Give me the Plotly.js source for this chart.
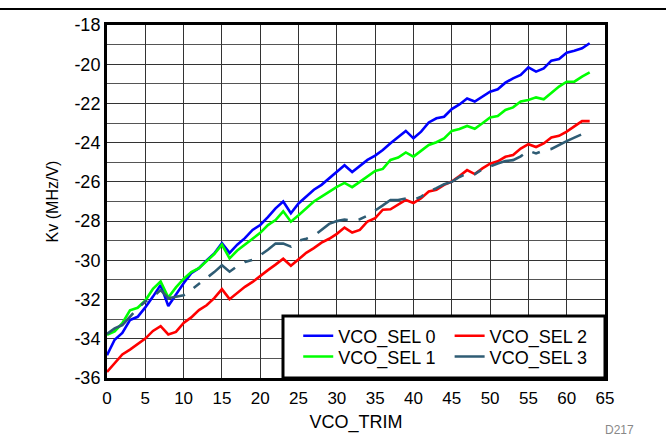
<!DOCTYPE html>
<html>
<head>
<meta charset="utf-8">
<script src="https://cdn.plot.ly/plotly-3.0.1.min.js"></script>
<style>
html,body{margin:0;padding:0;background:#fff;}
#chart{width:666px;height:438px;}
</style>
</head>
<body>
<div id="chart"></div>
<script>
// VCO_TRIM codes 0..63
const vcoTrim = Array.from({length: 64}, (_, i) => i);

const seriesNames = ["VCO_SEL 0", "VCO_SEL 1", "VCO_SEL 2", "VCO_SEL 3"];

const sel0 = [-34.84,-34.05,-33.7,-33.05,-32.88,-32.4,-31.85,-31.25,-32.33,-31.75,
  -31.17,-30.66,-30.4,-30.0,-29.65,-29.12,-29.62,-29.2,-28.87,-28.45,
  -28.2,-27.8,-27.35,-27.0,-27.6,-27.1,-26.75,-26.4,-26.15,-25.8,
  -25.5,-25.15,-25.5,-25.2,-24.88,-24.66,-24.37,-24.03,-23.7,-23.4,
  -23.78,-23.44,-22.97,-22.76,-22.68,-22.29,-22.05,-21.75,-21.9,-21.65,
  -21.4,-21.28,-20.94,-20.72,-20.55,-20.16,-20.38,-20.21,-19.82,-19.73,
  -19.41,-19.31,-19.19,-18.93];

const sel1 = [-33.8,-33.62,-33.2,-32.55,-32.42,-32.05,-31.45,-31.08,-31.9,-31.38,
  -30.95,-30.6,-30.4,-30.03,-29.68,-29.2,-29.9,-29.5,-29.2,-28.87,
  -28.6,-28.2,-27.95,-27.5,-28.03,-27.7,-27.35,-27.0,-26.75,-26.5,
  -26.25,-26.05,-26.27,-26.0,-25.73,-25.44,-25.34,-24.88,-24.76,-24.5,
  -24.71,-24.4,-24.12,-23.98,-23.78,-23.4,-23.3,-23.15,-23.29,-23.01,
  -22.71,-22.64,-22.33,-22.2,-21.9,-21.82,-21.69,-21.79,-21.48,-21.14,
  -20.89,-20.89,-20.63,-20.41];

const sel2 = [-35.69,-35.25,-34.8,-34.55,-34.28,-33.99,-33.6,-33.36,-33.78,-33.65,
  -33.19,-32.91,-32.54,-32.29,-31.93,-31.47,-31.98,-31.68,-31.35,-31.1,
  -30.78,-30.5,-30.22,-29.92,-30.28,-29.97,-29.62,-29.38,-29.1,-28.9,
  -28.65,-28.33,-28.58,-28.45,-28.02,-27.85,-27.42,-27.4,-27.17,-26.92,
  -27.08,-26.83,-26.49,-26.4,-26.15,-25.98,-25.7,-25.4,-25.6,-25.31,
  -25.07,-24.95,-24.72,-24.63,-24.3,-24.08,-24.22,-24.04,-23.73,-23.65,
  -23.44,-23.18,-22.9,-22.9];

const sel3 = [-33.75,-33.47,-33.3,-32.88,-32.45,-32.1,-31.86,-31.52,-31.93,-31.86,
  -31.78,-31.5,-31.2,-30.93,-30.6,-30.25,-30.58,-30.3,-30.08,-29.97,
  -29.74,-29.46,-29.14,-29.15,-29.3,-29.0,-28.9,-28.75,-28.45,-28.14,
  -28.0,-27.92,-27.98,-27.9,-27.72,-27.47,-27.2,-26.92,-26.92,-26.85,
  -26.92,-26.75,-26.5,-26.32,-26.12,-26.0,-25.75,-25.56,-25.6,-25.36,
  -25.2,-25.06,-24.94,-24.89,-24.7,-24.41,-24.55,-24.4,-24.32,-24.1,
  -23.92,-23.74,-23.57,-23.46];

const xTicks = [0,5,10,15,20,25,30,35,40,45,50,55,60,65];
const yTicks = [-36,-34,-32,-30,-28,-26,-24,-22,-20,-18];

const FONT = "Liberation Sans, Arial, sans-serif";

const colors = ["#0000FF", "#00FF00", "#FF0000", "#2F5C74"];
const seriesData = [sel0, sel1, sel2, sel3];
const legendIds = ["legend", "legend3", "legend2", "legend4"];

const traces = seriesData.map((ys, i) => ({
  x: vcoTrim,
  y: ys,
  type: "scatter",
  mode: "lines",
  name: seriesNames[i],
  legend: legendIds[i],
  line: {color: colors[i], width: 2.6, dash: i === 3 ? "34px,11px,8px,11px" : "solid"},
  hoverinfo: "skip"
}));

function legendAt(x, y) {
  return {
    x: x, y: y, xref: "paper", yref: "paper",
    xanchor: "left", yanchor: "middle",
    bgcolor: "rgba(0,0,0,0)", borderwidth: 0,
    font: {family: FONT, size: 18, color: "#000"}
  };
}

const layout = {
  width: 666, height: 438,
  margin: {l: 107, r: 61, t: 25, b: 60},
  paper_bgcolor: "#fff", plot_bgcolor: "#fff",
  showlegend: true,
  xaxis: {
    range: [0, 65], tickvals: xTicks, ticktext: xTicks.map(String),
    showgrid: true, gridcolor: "#333", gridwidth: 1,
    zeroline: false, showline: true, linecolor: "#000", linewidth: 3, mirror: true,
    ticks: "", ticklabelstandoff: 3, tickfont: {family: FONT, size: 17, color: "#000"},
    title: {text: "VCO_TRIM", font: {family: FONT, size: 18, color: "#000"}, standoff: 8}
  },
  yaxis: {
    range: [-36, -18], tickvals: yTicks, ticktext: yTicks.map(String),
    showgrid: true, gridcolor: "#333", gridwidth: 1,
    minor: {dtick: 1, tick0: 0, showgrid: true, gridcolor: "#555", gridwidth: 1},
    zeroline: false, showline: true, linecolor: "#000", linewidth: 3, mirror: true,
    ticks: "", tickfont: {family: FONT, size: 18, color: "#000"},
    title: {text: "Kv (MHz/V)", font: {family: FONT, size: 16, color: "#000"}, standoff: 12}
  },
  legend: legendAt(0.384, 0.119),
  legend3: legendAt(0.384, 0.060),
  legend2: legendAt(0.688, 0.119),
  legend4: legendAt(0.688, 0.060),
  shapes: [
    {type: "rect", xref: "paper", yref: "paper", x0: 0.3534, x1: 1, y0: 0, y1: 0.1756,
     fillcolor: "#fff", line: {color: "#000", width: 3}, layer: "above"},
    {type: "line", xref: "paper", yref: "paper", x0: -0.215, x1: 1.13, y0: 1.045, y1: 1.045,
     line: {color: "#000", width: 2}}
  ],
  annotations: [
    {text: "D217", xref: "paper", yref: "paper", x: 1.03, y: -0.146, xanchor: "center", yanchor: "middle",
     showarrow: false, font: {family: FONT, size: 12, color: "#888"}}
  ]
};

Plotly.newPlot("chart", traces, layout, {staticPlot: true, displayModeBar: false});
</script>
</body>
</html>
